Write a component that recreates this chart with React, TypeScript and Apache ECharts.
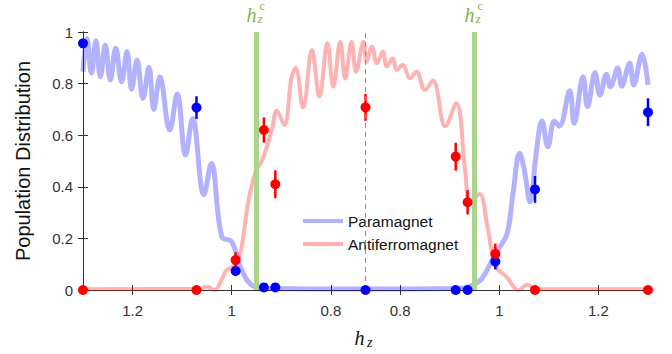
import React, { useEffect, useRef } from "react";
import * as echarts from "echarts";

// sweep: h_z goes from HZ_MAX down to HZ_MIN and back up to HZ_MAX
const HZ_MAX = 1.3;
const HZ_MIN = 0.73;
const HZ_C = 0.95;
const SPAN = 2 * (HZ_MAX - HZ_MIN);
const tickHz = [1.2, 1.0, 0.8];

// Paramagnet population (simulation), sweep coordinate s and value
const paraS = [0.000, 0.008, 0.017, 0.026, 0.035, 0.045, 0.055, 0.066, 0.078, 0.089, 0.098, 0.109, 0.121, 0.133, 0.143, 0.155, 0.175, 0.190, 0.207, 0.221, 0.244, 0.259, 0.280, 0.300, 0.320, 0.347, 0.377, 0.559, 0.761, 0.787, 0.805, 0.828, 0.842, 0.856, 0.868, 0.881, 0.890, 0.902, 0.915, 0.926, 0.938, 0.951, 0.961, 0.982, 0.991, 1.009, 1.018, 1.033, 1.043, 1.056, 1.064, 1.079, 1.087, 1.103, 1.111, 1.128, 1.140];
const paraY = [0.846, 0.975, 0.840, 0.966, 0.827, 0.950, 0.814, 0.937, 0.807, 0.924, 0.778, 0.891, 0.743, 0.863, 0.700, 0.827, 0.620, 0.760, 0.523, 0.665, 0.370, 0.490, 0.207, 0.187, 0.078, 0.012, 0.006, 0.004, 0.006, 0.020, 0.045, 0.125, 0.170, 0.220, 0.380, 0.530, 0.470, 0.342, 0.540, 0.655, 0.555, 0.655, 0.635, 0.772, 0.646, 0.827, 0.710, 0.842, 0.755, 0.836, 0.787, 0.860, 0.790, 0.879, 0.795, 0.914, 0.795];

// Antiferromagnet population (simulation)
const afmS = [0.000, 0.236, 0.249, 0.266, 0.276, 0.290, 0.303, 0.312, 0.320, 0.333, 0.347, 0.360, 0.370, 0.381, 0.391, 0.406, 0.421, 0.429, 0.444, 0.462, 0.477, 0.493, 0.505, 0.519, 0.529, 0.542, 0.551, 0.566, 0.572, 0.583, 0.593, 0.605, 0.613, 0.625, 0.633, 0.645, 0.660, 0.673, 0.690, 0.706, 0.731, 0.753, 0.771, 0.781, 0.800, 0.815, 0.832, 0.855, 0.879, 0.896, 0.916, 1.140];
const afmY = [0.003, 0.005, 0.013, 0.000, 0.025, 0.078, 0.090, 0.115, 0.165, 0.336, 0.452, 0.497, 0.550, 0.620, 0.695, 0.640, 0.827, 0.860, 0.707, 0.930, 0.749, 0.956, 0.788, 0.962, 0.820, 0.962, 0.846, 0.962, 0.885, 0.943, 0.879, 0.924, 0.866, 0.898, 0.853, 0.872, 0.820, 0.846, 0.775, 0.812, 0.635, 0.724, 0.465, 0.336, 0.372, 0.258, 0.095, 0.050, 0.000, 0.020, 0.003, 0.003];

// Measured points
const probeS = [0.000, 0.229, 0.308, 0.365, 0.388, 0.570, 0.752, 0.776, 0.832, 0.912, 1.140];
const paraDots = [0.956, 0.707, 0.074, 0.010, 0.010, 0.000, 0.000, 0.000, 0.110, 0.390, 0.689];
const paraErr = [0, 0.044, 0.02, 0, 0, 0, 0, 0, 0.03, 0.052, 0.054];
const afmDots = [0.000, 0.000, 0.116, 0.620, 0.410, 0.708, 0.517, 0.340, 0.140, 0.000, 0.000];
const afmErr = [0, 0, 0.03, 0.049, 0.054, 0.052, 0.054, 0.047, 0.04, 0, 0];

const leftS = (hz: number) => HZ_MAX - hz;
const rightS = (hz: number) => SPAN - (HZ_MAX - hz);
const sToHz = (s: number) => (s <= SPAN / 2 ? HZ_MAX - s : HZ_MAX - (SPAN - s));

const SANS = '"Liberation Sans", Arial, sans-serif';
const SERIF = '"Liberation Serif", "DejaVu Serif", serif';
const GREEN_LINE = "#abd48c";
const GREEN_TEXT = "#79b84a";
const AXIS = "#333";

export default function App() {
  const ref = useRef<HTMLDivElement>(null);
  useEffect(() => {
    document.body.style.margin = "0";
    if (!ref.current) return;
    const chart = echarts.init(ref.current, null, { renderer: "svg" });
    const tickS = [...tickHz.map(leftS), ...tickHz.map(rightS)];
    const errData = (vals: number[], errs: number[]) =>
      probeS
        .map((s, i) => [s, vals[i] - errs[i], vals[i] + errs[i]])
        .filter((_, i) => errs[i] > 0);
    const errSeries = (vals: number[], errs: number[], color: string) => ({
      type: "custom",
      data: errData(vals, errs),
      encode: { x: 0, y: [1, 2] },
      clip: false,
      z: 4,
      silent: true,
      renderItem: (params: any, api: any) => {
        const p1 = api.coord([api.value(0), api.value(1)]);
        const p2 = api.coord([api.value(0), api.value(2)]);
        return {
          type: "line",
          shape: { x1: p1[0], y1: p1[1], x2: p2[0], y2: p2[1] },
          style: { stroke: color, lineWidth: 2.5 },
        };
      },
    });
    const axisCommon = {
      type: "value",
      min: 0,
      splitLine: { show: false },
      axisLine: { show: true, lineStyle: { color: AXIS, width: 1 } },
    };
    chart.setOption({
      animation: false,
      grid: { left: 83, right: 24, top: 32, bottom: 64, containLabel: false },
      legend: {
        data: ["Paramagnet", "Antiferromagnet"],
        orient: "vertical",
        left: 298,
        top: 208,
        icon: "rect",
        itemWidth: 40,
        itemHeight: 4,
        itemGap: 7,
        textStyle: { fontSize: 15.5, color: "#111", fontFamily: SANS },
      },
      xAxis: [
        {
          ...axisCommon,
          max: SPAN,
          position: "bottom",
          axisTick: { show: true, inside: true, length: 5, customValues: tickS, lineStyle: { color: AXIS } },
          axisLabel: {
            customValues: tickS,
            margin: 13,
            fontSize: 15,
            color: AXIS,
            fontFamily: SANS,
            formatter: (v: number) => String(Number(sToHz(v).toFixed(2))),
          },
        },
        {
          ...axisCommon,
          max: SPAN,
          position: "top",
          axisTick: { show: true, inside: true, length: 5, customValues: tickS, lineStyle: { color: AXIS } },
          axisLabel: { show: false },
        },
      ],
      yAxis: [
        {
          ...axisCommon,
          max: 1,
          interval: 0.2,
          position: "left",
          axisTick: { show: true, inside: true, length: 5, lineStyle: { color: AXIS } },
          axisLabel: { margin: 10, fontSize: 15, color: AXIS, fontFamily: SANS },
          name: "Population Distribution",
          nameLocation: "middle",
          nameGap: 50,
          nameTextStyle: { fontSize: 20, color: "#111", fontFamily: SANS },
        },
        {
          ...axisCommon,
          max: 1,
          interval: 0.2,
          position: "right",
          axisTick: { show: true, inside: true, length: 5, lineStyle: { color: AXIS } },
          axisLabel: { show: false },
        },
      ],
      series: [
        {
          type: "line",
          name: "markers",
          data: [],
          z: 1,
          markLine: {
            silent: true,
            symbol: ["none", "none"],
            label: { show: false },
            data: [
              { xAxis: leftS(HZ_C), lineStyle: { color: GREEN_LINE, width: 5, type: "solid" } },
              { xAxis: rightS(HZ_C), lineStyle: { color: GREEN_LINE, width: 5, type: "solid" } },
              { xAxis: SPAN / 2, lineStyle: { color: "#8c8c8c", width: 1, type: [5, 4] } },
            ],
          },
        },
        {
          type: "line",
          name: "Paramagnet",
          data: paraS.map((s, i) => [s, paraY[i]]),
          showSymbol: false,
          smooth: 0.4,
          z: 2,
          itemStyle: { color: "rgba(0,0,255,0.3)" },
          lineStyle: { color: "rgba(0,0,255,0.3)", width: 5 },
        },
        {
          type: "line",
          name: "Antiferromagnet",
          data: afmS.map((s, i) => [s, afmY[i]]),
          showSymbol: false,
          smooth: 0.4,
          z: 2,
          itemStyle: { color: "rgba(255,0,0,0.3)" },
          lineStyle: { color: "rgba(255,0,0,0.3)", width: 4 },
        },
        errSeries(paraDots, paraErr, "#0000ff"),
        errSeries(afmDots, afmErr, "#ff0000"),
        {
          type: "scatter",
          name: "para-exp",
          data: probeS.map((s, i) => [s, paraDots[i]]),
          symbolSize: 10,
          clip: false,
          z: 5,
          itemStyle: { color: "#0000ff", opacity: 1 },
        },
        {
          type: "scatter",
          name: "afm-exp",
          data: probeS.map((s, i) => [s, afmDots[i]]),
          symbolSize: 10,
          clip: false,
          z: 5,
          itemStyle: { color: "#ff0000", opacity: 1 },
        },
      ],
    });

    const xL = chart.convertToPixel({ xAxisIndex: 0 }, leftS(HZ_C)) as number;
    const xR = chart.convertToPixel({ xAxisIndex: 0 }, rightS(HZ_C)) as number;
    const xMid = chart.convertToPixel({ xAxisIndex: 0 }, SPAN / 2) as number;
    const yTop = chart.convertToPixel({ yAxisIndex: 0 }, 1) as number;
    const yBot = chart.convertToPixel({ yAxisIndex: 0 }, 0) as number;

    const txt = (text: string, x: number, baseline: number, size: number, italic: boolean, fill: string) => ({
      type: "text",
      x,
      y: baseline - 0.34 * size,
      silent: true,
      style: {
        text,
        font: `${italic ? "italic " : ""}${size}px ${SERIF}`,
        fill,
        align: "left",
        verticalAlign: "middle",
      },
    });
    const hzcLabel = (lx: number) => [
      txt("h", lx - 10, yTop - 10, 20, true, GREEN_TEXT),
      txt("z", lx + 1, yTop - 9, 13, true, GREEN_TEXT),
      txt("c", lx + 3, yTop - 22, 12, false, GREEN_TEXT),
    ];
    chart.setOption({
      graphic: [
        ...hzcLabel(xL),
        ...hzcLabel(xR),
        txt("h", xMid - 11, yBot + 54.7, 20, true, "#111"),
        txt("z", xMid + 1.5, yBot + 57.3, 14, true, "#111"),
      ],
    });

    return () => chart.dispose();
  }, []);
  return <div ref={ref} style={{ width: 672, height: 354 }} />;
}
